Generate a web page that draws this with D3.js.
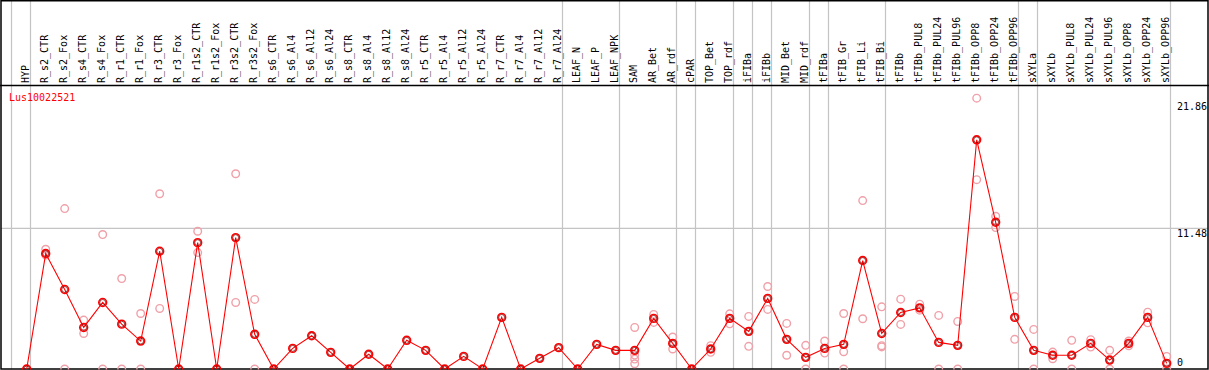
<!DOCTYPE html>
<html><head><meta charset="utf-8">
<script src="https://cdn.jsdelivr.net/npm/d3@7"></script>
<style>
html,body{margin:0;padding:0;background:#fff;}
svg{display:block;}
text{font-family:"DejaVu Sans Mono","Liberation Mono",monospace;font-size:10px;}
</style></head>
<body>
<script>
const geneName = "Lus10022521";
const categories = ["HYP","R_s2_CTR","R_s2_Fox","R_s4_CTR","R_s4_Fox","R_r1_CTR","R_r1_Fox","R_r3_CTR","R_r3_Fox","R_r1s2_CTR","R_r1s2_Fox","R_r3s2_CTR","R_r3s2_Fox","R_s6_CTR","R_s6_Al4","R_s6_Al12","R_s6_Al24","R_s8_CTR","R_s8_Al4","R_s8_Al12","R_s8_Al24","R_r5_CTR","R_r5_Al4","R_r5_Al12","R_r5_Al24","R_r7_CTR","R_r7_Al4","R_r7_Al12","R_r7_Al24","LEAF_N","LEAF_P","LEAF_NPK","SAM","AR_Bet","AR_rdf","cPAR","TOP_Bet","TOP_rdf","iFIBa","iFIBb","MID_Bet","MID_rdf","tFIBa","tFIB_Gr","tFIB_Li","tFIB_Bi","tFIBb","tFIBb_PUL8","tFIBb_PUL24","tFIBb_PUL96","tFIBb_OPP8","tFIBb_OPP24","tFIBb_OPP96","sXYLa","sXYLb","sXYLb_PUL8","sXYLb_PUL24","sXYLb_PUL96","sXYLb_OPP8","sXYLb_OPP24","sXYLb_OPP96"];
const meanValues = [0,9.42,6.49,3.39,5.43,3.66,2.28,9.61,0,10.31,0,10.72,2.83,
  0,1.68,2.71,1.36,0,1.2,0,2.34,1.52,0,1.03,0,4.21,0,0.87,1.74,
  0,2.01,1.52,
  1.52,4.13,2.09,0,1.63,4.13,3.07,5.76,2.42,0.95,1.68,2.01,8.85,2.9,
  4.61,4.99,2.17,1.93,18.7,11.97,4.21,
  1.52,1.12,1.12,2.09,0.73,2.09,4.21,0.46];
const replicateValues = [[],[9.77,9.3],[13.09,0],[3.99,2.9],[10.97,0],[7.38,0],[4.53,0],[14.3,4.94],[],[11.24,9.5],[],[15.93,5.43],[5.68,0],
  [],[],[],[],[],[],[],[],[],[],[],[],[],[],[],[],
  [],[],[],
  [3.39,1.14,0.81,0.43],[4.45,3.8],[2.61,1.63],[],[1.9,1.36],[4.5,3.69],[4.29,1.85],[6.73,4.86],[3.72,1.12],[1.93,0],[2.28,1.3],[4.53,1.41,0],[13.74,4.1],[5.07,1.9,1.8],
  [5.7,3.64],[5.29,4.8],[4.37,0],[3.88,0],[22.1,15.45],[12.46,11.54],[5.92,2.42],
  [3.23,0],[1.38,0.84],[2.34,0],[2.39,1.79],[1.52,0],[2.28,1.9],[4.64,3.77],[1.03,0]];
const groupEnds = [0,28,31,34,35,37,38,39,41,42,45,52,53,60];
const tickValues = [21.86, 11.48, 0];

const W = 1209, H = 370;
const svg = d3.select("body").append("svg").attr("width", W).attr("height", H);

const x = d3.scalePoint().domain(categories).range([26.7, 26.7 + 19 * (categories.length - 1)]);
const step = x.step();
const y = d3.scaleLinear().domain([0, 11.48]).range([369, 228.3]);

const plotTop = 86, plotBottom = 369, left = 1, right = 1208;

// horizontal gridline
svg.append("line").attr("x1", left).attr("x2", right)
  .attr("y1", y(11.48)).attr("y2", y(11.48))
  .attr("stroke", "#c4c4c4").attr("stroke-width", 1.2);

// vertical group separators
const sepX = [x(categories[0]) - step + 3.8].concat(groupEnds.map(i => x(categories[i]) + 3.8));
svg.selectAll("line.sep").data(sepX).enter().append("line")
  .attr("x1", d => d).attr("x2", d => d).attr("y1", 0).attr("y2", plotBottom)
  .attr("stroke", "#c4c4c4").attr("stroke-width", 1.2);

// header labels
svg.selectAll("text.cat").data(categories).enter().append("text")
  .attr("transform", d => `translate(${x(d) + 2},83) rotate(-90)`)
  .attr("fill", "#000").text(d => d);

// frame
svg.append("line").attr("x1", 0).attr("x2", W).attr("y1", 85.5).attr("y2", 85.5).attr("stroke", "#000").attr("stroke-width", 1.5);
svg.append("rect").attr("x", 1).attr("y", 0.75).attr("width", right - 1).attr("height", plotBottom - 0.75)
  .attr("fill", "none").attr("stroke", "#000").attr("stroke-width", 1.5);

// gene name
svg.append("text").attr("x", 9).attr("y", 101).attr("fill", "#ff0000").text(geneName);

// y tick labels (right side)
svg.selectAll("text.tick").data(tickValues).enter().append("text")
  .attr("x", 1177)
  .attr("y", d => Math.min(y(d) + 8.5, 366))
  .attr("fill", "#000").text(d => d === 0 ? "0" : d.toFixed(2));

const clip = svg.append("clipPath").attr("id", "clip").append("rect")
  .attr("x", left).attr("y", plotTop).attr("width", right - left).attr("height", plotBottom - plotTop + 0.5);
const g = svg.append("g").attr("clip-path", "url(#clip)");

// replicates
const reps = [];
replicateValues.forEach((arr, i) => arr.forEach(v => reps.push({c: categories[i], v})));
g.selectAll("circle.rep").data(reps).enter().append("circle")
  .attr("cx", d => x(d.c)).attr("cy", d => y(d.v)).attr("r", 3.8)
  .attr("fill", "none").attr("stroke", "#f0a0a8").attr("stroke-width", 1.4);

// mean line
const line = d3.line().x((d, i) => x(categories[i])).y(d => y(d));
g.append("path").datum(meanValues).attr("d", line)
  .attr("fill", "none").attr("stroke", "#ff0000").attr("stroke-width", 1.1);

// mean circles
g.selectAll("circle.mean").data(meanValues).enter().append("circle")
  .attr("cx", (d, i) => x(categories[i])).attr("cy", d => y(d)).attr("r", 3.9)
  .attr("fill", "none").attr("stroke", "#ff0000").attr("stroke-width", 1.6);
g.selectAll("circle.meanin").data(meanValues).enter().append("circle")
  .attr("cx", (d, i) => x(categories[i])).attr("cy", d => y(d)).attr("r", 2.9)
  .attr("fill", "none").attr("stroke", "#700000").attr("stroke-width", 0.7);
</script>
</body></html>
